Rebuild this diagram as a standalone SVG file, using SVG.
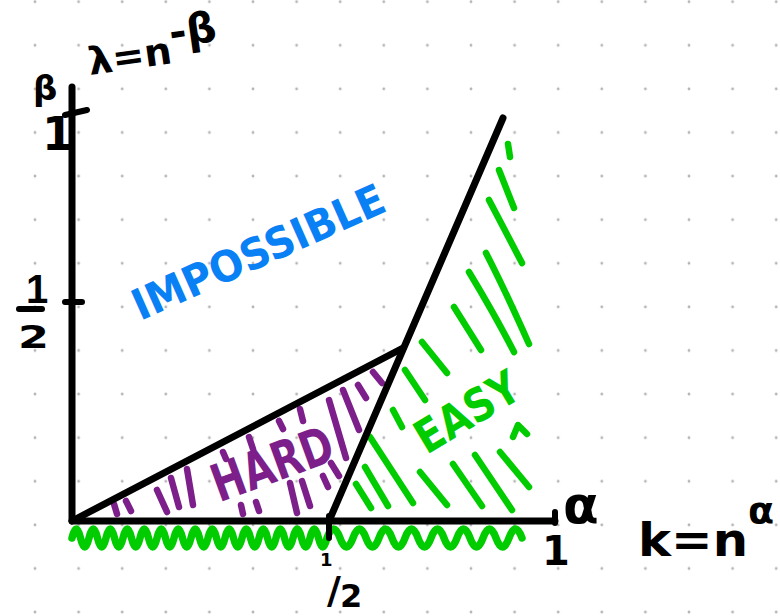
<svg xmlns="http://www.w3.org/2000/svg" width="780" height="616" viewBox="0 0 780 616">
<style>
.ink{fill:none;stroke:#000;stroke-width:7;stroke-linecap:round;stroke-linejoin:round}
.tick{fill:none;stroke:#000;stroke-width:6;stroke-linecap:round}
.hg{fill:none;stroke:#00cc00;stroke-width:6.5;stroke-linecap:round;stroke-linejoin:round}
.wave{fill:none;stroke:#00cc00;stroke-width:7.5;stroke-linecap:round;stroke-linejoin:round}
.hp{fill:none;stroke:#7d1f8a;stroke-width:6.5;stroke-linecap:round;stroke-linejoin:round}
.lbl{font-family:"DejaVu Sans","Liberation Sans",sans-serif;font-weight:bold;fill:#000}
.word{font-family:"DejaVu Sans","Liberation Sans",sans-serif;font-weight:bold}
</style>
<defs>
<pattern id="dots" x="13.2" y="-20.1" width="43.6" height="43.6" patternUnits="userSpaceOnUse">
<circle cx="21.8" cy="21.8" r="1.4" fill="#b4b4b4"/>
</pattern>
</defs>
<rect width="780" height="616" fill="#fff"/>
<rect width="780" height="616" fill="url(#dots)"/>

<g id="easy-region">
<path class="hg" d="M508,144 L510,157 M499,170 L514,208 M489,200 L522,263 M486,253 Q505,290 529,344 M469,272 Q495,315 514,352 M454,307 L481,350 M422,342 L447,373 M405,370 L425,400 M393,410 L402,427 M370,437 L413,503 M365,467 L388,506 M356,484 L371,508 M420,472 L447,505 M453,464 L482,506 M475,455 L512,510 M500,452 L529,487 M513,437 L518,425 L527,434"/>
<text class="word" fill="#00cc00" transform="translate(467,412) rotate(-31)" x="0" y="16" font-size="46" text-anchor="middle" textLength="114" lengthAdjust="spacingAndGlyphs">EASY</text>
</g>

<g id="hard-region">
<path class="hp" d="M114,504 L117,514 M126,501 L131,511 M157,490 L167,512 M171,478 L179,507 M187,469 L193,505 M223,452 L226,459 M249,437 L253,449 M279,421 L283,429 M300,409 L303,421 M241,505 L243,514 M256,502 L259,511 M290,483 L297,513 M302,481 L310,506 M323,476 L328,487 M331,463 L339,476 M329,400 L346,458 M343,390 L359,430 M358,385 L366,398 M373,372 L382,383"/>
<text class="word" fill="#7d1f8a" transform="translate(272,463) rotate(-20)" x="0" y="19" font-size="52" text-anchor="middle" textLength="126" lengthAdjust="spacingAndGlyphs">HARD</text>
</g>

<g id="impossible-region">
<text class="word" fill="#0a80f5" transform="translate(258,251) rotate(-24)" x="0" y="16" font-size="43" text-anchor="middle" textLength="272" lengthAdjust="spacingAndGlyphs">IMPOSSIBLE</text>
</g>

<g id="lower-bound">
<path class="wave" d="M72,538 Q76.25,520 80.5,538 T89,538 T97.5,538 T106,538 T114.5,538 T123,538 T131.5,538 T140,538 T148.5,538 T157,538 T165.5,538 T174,538 T182.5,538 T191,538 T199.5,538 T208,538 T216.5,538 T225,538 T233.5,538 T242,538 T250.5,538 T259,538 T267.5,538 T276,538 T284.5,538 T293,538 T301.5,538 T310,538 T318.5,538 T327,538 Q333.5,520 340,538 T353,538 T366,538 T379,538 T392,538 T405,538 T418,538 T431,538 T444,538 T457,538 T470,538 T483,538 T496,538 T509,538 T522,538"/>
</g>

<g id="connectors">
<path class="ink" d="M72,87 L72,521 L555,521"/>
<path class="ink" d="M72,521 L403,348"/>
<path class="ink" d="M329,521 L503,118"/>
<path class="tick" d="M65,115 L87,110 M65,302 L82,302 M329,516 L329,538 M555,512 L555,523"/>
</g>

<g id="labels">
<text class="lbl" transform="translate(90,75) rotate(-8)" font-size="38"><tspan textLength="84" lengthAdjust="spacingAndGlyphs">λ=n</tspan><tspan dy="-16" font-size="42">-β</tspan></text>
<text class="lbl" x="33" y="100" font-size="34">β</text>
<text class="lbl" x="42" y="150" font-size="46">1</text>
<text class="lbl" x="26" y="303" font-size="40" style="font-family:'Liberation Sans',sans-serif">1</text>
<path class="tick" d="M19,309 L42,309"/>
<text class="lbl" x="18" y="348" font-size="32" textLength="31" lengthAdjust="spacingAndGlyphs">2</text>
<text class="lbl" font-size="38"><tspan x="320" y="566" font-size="18">1</tspan><tspan x="327" y="603">/</tspan><tspan x="340" y="607" font-size="32">2</tspan></text>
<text class="lbl" x="542" y="565" font-size="40">1</text>
<text class="lbl" x="563" y="523" font-size="52">α</text>
<text class="lbl" x="638" y="556" font-size="46"><tspan textLength="110" lengthAdjust="spacingAndGlyphs">k=n</tspan><tspan dy="-33" font-size="38">α</tspan></text>
</g>
</svg>
